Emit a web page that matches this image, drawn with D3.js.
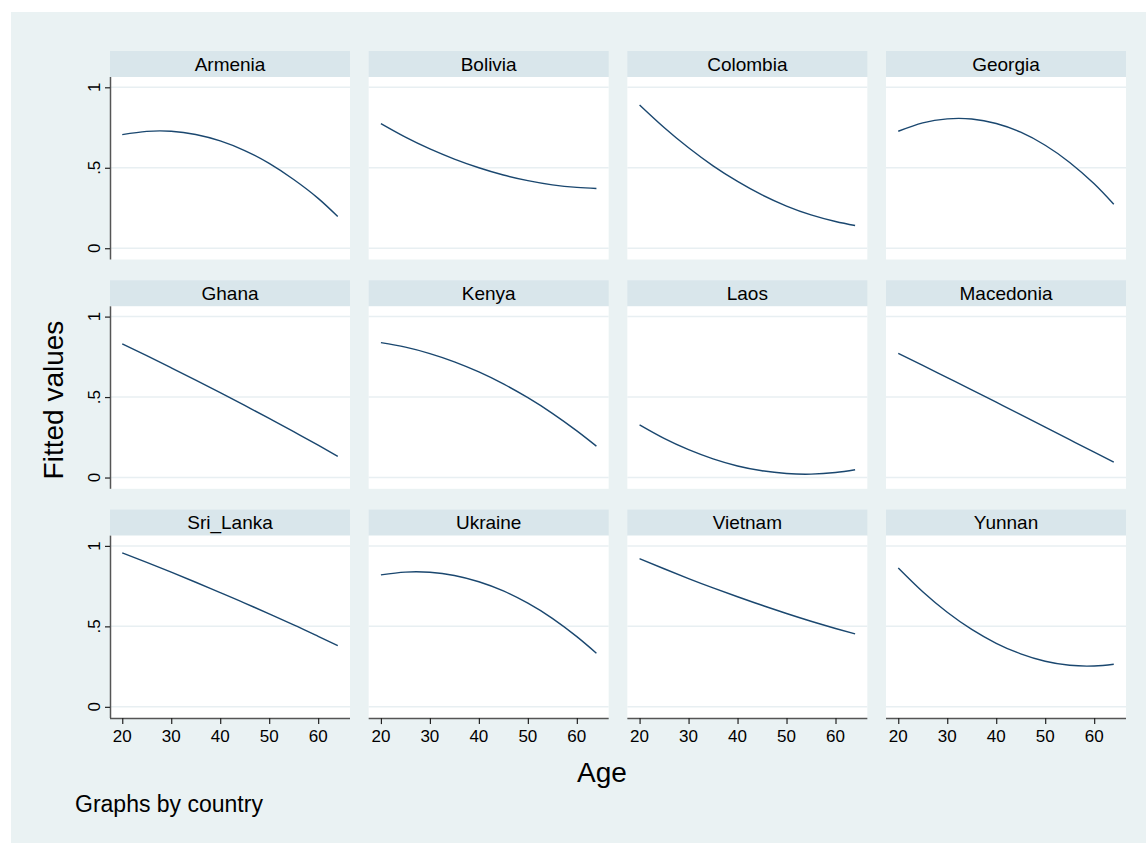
<!DOCTYPE html>
<html>
<head>
<meta charset="utf-8">
<script src="https://cdn.jsdelivr.net/npm/d3@7"></script>
<style>
  html, body { margin: 0; padding: 0; background: #ffffff; }
  svg { display: block; }
  text { font-family: "Liberation Sans", Arial, Helvetica, sans-serif; fill: #000; }
</style>
</head>
<body>
<svg id="chart" width="1146" height="843"></svg>
<script>
// ---- data ----
const countries = ["Armenia", "Bolivia", "Colombia", "Georgia",
                   "Ghana", "Kenya", "Laos", "Macedonia",
                   "Sri_Lanka", "Ukraine", "Vietnam", "Yunnan"];
const ages = [20, 25, 30, 35, 40, 45, 50, 55, 60, 64];
const armenia   = [0.706, 0.726, 0.727, 0.707, 0.667, 0.607, 0.527, 0.427, 0.310, 0.197];
const bolivia   = [0.774, 0.690, 0.617, 0.554, 0.500, 0.455, 0.420, 0.394, 0.378, 0.371];
const colombia  = [0.890, 0.750, 0.624, 0.512, 0.415, 0.331, 0.262, 0.207, 0.166, 0.141];
const georgia   = [0.727, 0.779, 0.804, 0.803, 0.775, 0.721, 0.640, 0.533, 0.400, 0.273];
const ghana     = [0.830, 0.757, 0.682, 0.606, 0.528, 0.448, 0.367, 0.285, 0.201, 0.132];
const kenya     = [0.838, 0.810, 0.770, 0.719, 0.656, 0.582, 0.496, 0.399, 0.290, 0.195];
const laos      = [0.327, 0.243, 0.173, 0.116, 0.072, 0.042, 0.025, 0.021, 0.031, 0.048];
const macedonia = [0.772, 0.697, 0.621, 0.545, 0.468, 0.391, 0.313, 0.235, 0.158, 0.095];
const sriLanka  = [0.957, 0.898, 0.837, 0.774, 0.710, 0.645, 0.577, 0.509, 0.438, 0.381];
const ukraine   = [0.820, 0.837, 0.836, 0.816, 0.777, 0.720, 0.644, 0.550, 0.436, 0.333];
const vietnam   = [0.921, 0.858, 0.797, 0.739, 0.684, 0.631, 0.580, 0.532, 0.487, 0.453];
const yunnan    = [0.863, 0.715, 0.588, 0.481, 0.395, 0.329, 0.283, 0.258, 0.254, 0.265];
const xTicks = [20, 30, 40, 50, 60];
const yTicks = [0, 0.5, 1];
const yTickLabels = ["0", ".5", "1"];

const seriesValues = [armenia, bolivia, colombia, georgia, ghana, kenya, laos,
                      macedonia, sriLanka, ukraine, vietnam, yunnan];
const series = countries.map((c, i) => ({
  name: c,
  points: ages.map((a, j) => ({ age: a, v: seriesValues[i][j] }))
}));

// ---- layout ----
const svg = d3.select("#chart");
const W = 1146, H = 843;
const lineColor = "#1a476f";
const bgColor = "#eaf2f3";
const stripColor = "#d9e6eb";
const gridColor = "#e8eff2";
const axisColor = "#555555";

svg.append("rect").attr("x", 0).attr("y", 0).attr("width", W).attr("height", H).attr("fill", "#ffffff");
svg.append("rect").attr("x", 11).attr("y", 12).attr("width", W - 11).attr("height", H - 12).attr("fill", bgColor);

const ncol = 4;
const colX0 = 110, colStep = 258.67, panelW = 240;
const rowY0 = 51, rowStep = 229.3, stripH = 26, plotH = 182.5;

const x = d3.scaleLinear().domain([17.5, 66.5]).range([0, panelW]);
const y = d3.scaleLinear().domain([-0.07, 1.064]).range([plotH, 0]);

const line = d3.line()
  .x(d => x(d.age))
  .y(d => y(d.v))
  .curve(d3.curveNatural);

series.forEach((s, i) => {
  const r = Math.floor(i / ncol), c = i % ncol;
  const px = colX0 + c * colStep;
  const py = rowY0 + r * rowStep;
  const g = svg.append("g").attr("transform", `translate(${px},${py})`);

  // strip
  g.append("rect").attr("x", 0).attr("y", 0).attr("width", panelW).attr("height", stripH).attr("fill", stripColor);
  g.append("text").attr("x", panelW / 2).attr("y", 19.5).attr("text-anchor", "middle")
    .attr("font-size", 19).text(s.name);

  // plot area
  const p = g.append("g").attr("transform", `translate(0,${stripH})`);
  p.append("rect").attr("x", 0).attr("y", 0).attr("width", panelW).attr("height", plotH).attr("fill", "#ffffff");

  // grid
  p.selectAll("line.grid").data(yTicks).enter().append("line")
    .attr("class", "grid")
    .attr("x1", 0).attr("x2", panelW)
    .attr("y1", d => y(d)).attr("y2", d => y(d))
    .attr("stroke", gridColor).attr("stroke-width", 1.5);

  // curve
  p.append("path").datum(s.points).attr("d", line)
    .attr("fill", "none").attr("stroke", lineColor).attr("stroke-width", 1.4);

  // y axis on first column
  if (c === 0) {
    const ya = p.append("g").call(d3.axisLeft(y).tickValues(yTicks).tickSize(5).tickFormat(() => ""));
    ya.select(".domain").attr("stroke", axisColor).attr("stroke-width", 1.5)
      .attr("d", `M0.5,0V${plotH}`);
    ya.selectAll(".tick line").attr("stroke", "#222").attr("stroke-width", 1.2);
    p.selectAll("text.ylab").data(yTicks).enter().append("text")
      .attr("class", "ylab")
      .attr("transform", d => `translate(-10,${y(d)}) rotate(-90)`)
      .attr("text-anchor", "middle")
      .attr("font-size", 17)
      .text((d, k) => yTickLabels[k]);
  }
  // x axis on bottom row
  if (r === 2) {
    const xa = p.append("g").attr("transform", `translate(0,${plotH})`)
      .call(d3.axisBottom(x).tickValues(xTicks).tickSize(6).tickFormat(() => ""));
    xa.select(".domain").attr("stroke", axisColor).attr("stroke-width", 1.5)
      .attr("d", `M0,0.5H${panelW}`);
    xa.selectAll(".tick line").attr("stroke", "#222").attr("stroke-width", 1.2);
    p.selectAll("text.xlab").data(xTicks).enter().append("text")
      .attr("class", "xlab")
      .attr("x", d => x(d)).attr("y", plotH + 24)
      .attr("text-anchor", "middle")
      .attr("font-size", 17)
      .text(d => d);
  }
});

// axis titles and note
svg.append("text")
  .attr("transform", "translate(63,400) rotate(-90)")
  .attr("text-anchor", "middle").attr("font-size", 28).text("Fitted values");
svg.append("text")
  .attr("x", 602).attr("y", 782)
  .attr("text-anchor", "middle").attr("font-size", 28).text("Age");
svg.append("text")
  .attr("x", 75).attr("y", 812)
  .attr("font-size", 23).text("Graphs by country");
</script>
</body>
</html>
